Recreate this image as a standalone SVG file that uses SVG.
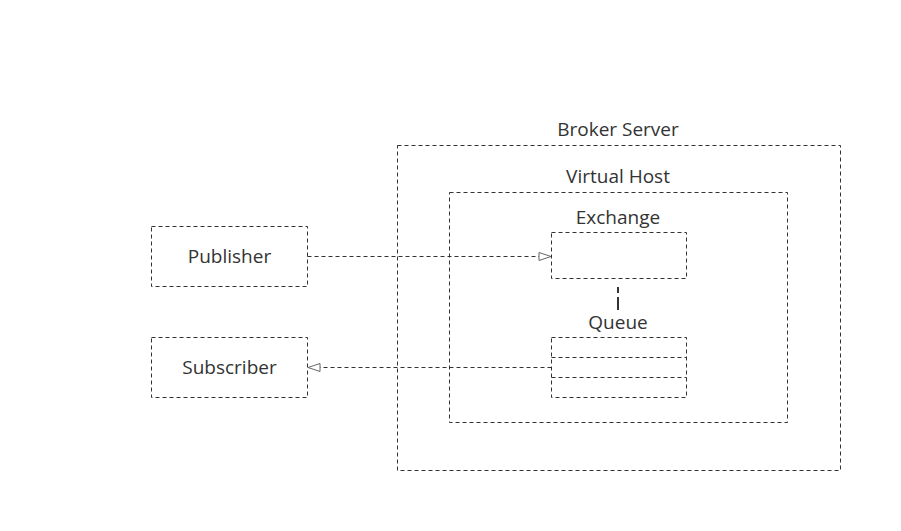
<svg xmlns="http://www.w3.org/2000/svg" width="901" height="531" viewBox="0 0 901 531">
<style>
.box{fill:none;stroke:#333;stroke-width:1;stroke-dasharray:4 3}
.lbl{font-family:"Open Sans","Noto Sans",sans-serif;font-size:19px;fill:#333;text-anchor:middle}
.conn{fill:none;stroke:#333;stroke-width:1;stroke-dasharray:4 3}
</style>
<defs>
<marker id="tri" markerWidth="14" markerHeight="10" refX="13" refY="5" orient="auto" markerUnits="userSpaceOnUse">
<path d="M1,1 L13,5 L1,9 Z" fill="#fff" stroke="#666" stroke-width="1"/>
</marker>
</defs>
<rect width="901" height="531" fill="#fff"/>
<g id="broker">
<rect class="box" x="397.5" y="145.5" width="443" height="325"/>
<text class="lbl" x="618" y="136">Broker Server</text>
</g>
<g id="vhost">
<rect class="box" x="449.5" y="192.5" width="338" height="230"/>
<text class="lbl" x="618" y="183">Virtual Host</text>
</g>
<g id="exchange">
<rect class="box" x="551.5" y="232.5" width="135" height="46"/>
<text class="lbl" x="618" y="224">Exchange</text>
</g>
<g id="queue">
<rect class="box" x="551.5" y="337.5" width="135" height="60"/>
<line class="box" x1="551.5" y1="357.5" x2="686.5" y2="357.5"/>
<line class="box" x1="551.5" y1="377.5" x2="686.5" y2="377.5"/>
<text class="lbl" x="618" y="329">Queue</text>
</g>
<g id="publisher">
<rect class="box" x="151.5" y="226.5" width="156" height="60"/>
<text class="lbl" x="229.5" y="263">Publisher</text>
</g>
<g id="subscriber">
<rect class="box" x="151.5" y="337.5" width="156" height="60"/>
<text class="lbl" x="229.5" y="374">Subscriber</text>
</g>
<g id="connectors">
<line class="conn" x1="307.5" y1="256.5" x2="551" y2="256.5" marker-end="url(#tri)"/>
<line class="conn" x1="551.5" y1="367.5" x2="308" y2="367.5" marker-end="url(#tri)"/>
<line x1="618" y1="287" x2="618" y2="310" stroke="#333" stroke-width="2" stroke-dasharray="6 4 12 0"/>
</g>
</svg>
